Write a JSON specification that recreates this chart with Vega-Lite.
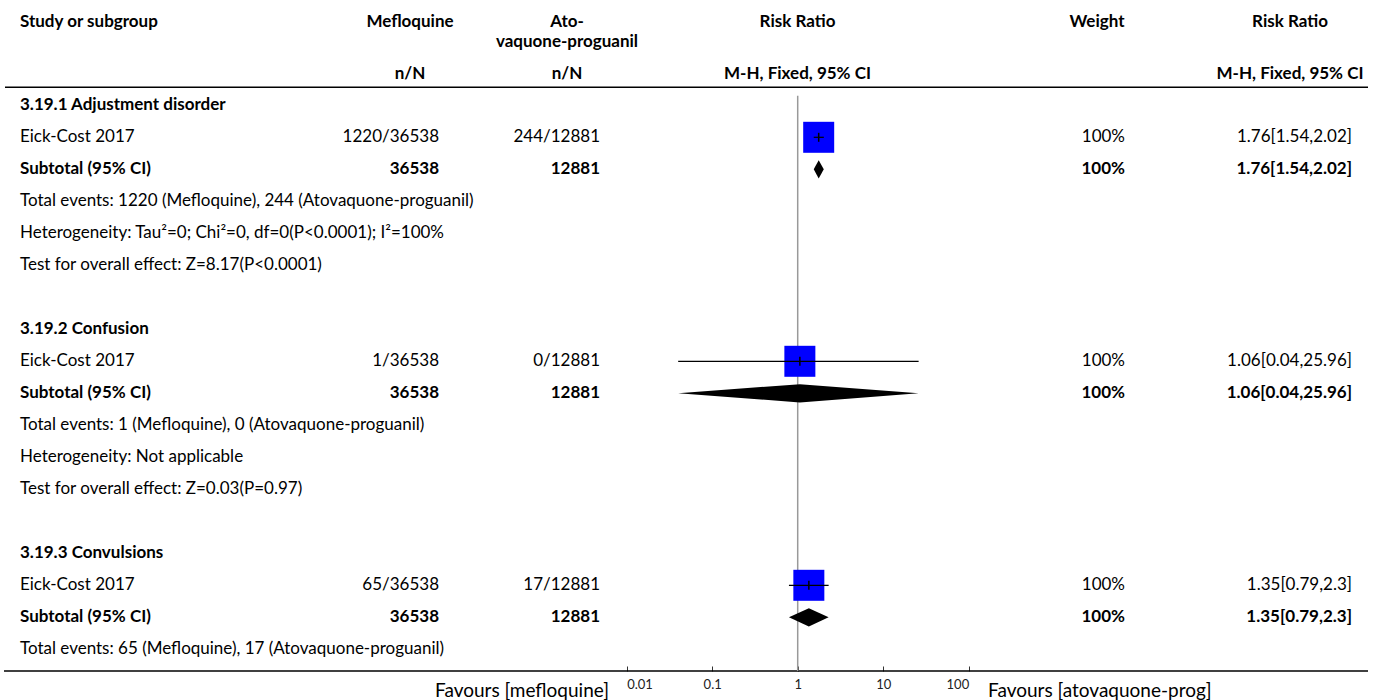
{
  "$schema": "https://vega.github.io/schema/vega-lite/v6.json",
  "width": 1375,
  "height": 700,
  "autosize": "none",
  "padding": 0,
  "background": "#ffffff",
  "config": {
    "view": {"stroke": null},
    "text": {"font": "Lato", "fontSize": 17, "color": "#000000", "baseline": "middle"}
  },
  "datasets": {
    "rows": [
      {"row": 0, "kind": "group", "label": "3.19.1 Adjustment disorder"},
      {"row": 1, "kind": "study", "label": "Eick-Cost 2017", "events_mef": 1220, "total_mef": 36538, "events_ato": 244, "total_ato": 12881, "rr": 1.76, "lo": 1.54, "hi": 2.02, "weight": 100},
      {"row": 2, "kind": "subtotal", "label": "Subtotal (95% CI)", "total_mef": 36538, "total_ato": 12881, "rr": 1.76, "lo": 1.54, "hi": 2.02, "weight": 100},
      {"row": 3, "kind": "note", "label": "Total events: 1220 (Mefloquine), 244 (Atovaquone-proguanil)"},
      {"row": 4, "kind": "note", "label": "Heterogeneity: Tau²=0; Chi²=0, df=0(P<0.0001); I²=100%"},
      {"row": 5, "kind": "note", "label": "Test for overall effect: Z=8.17(P<0.0001)"},
      {"row": 7, "kind": "group", "label": "3.19.2 Confusion"},
      {"row": 8, "kind": "study", "label": "Eick-Cost 2017", "events_mef": 1, "total_mef": 36538, "events_ato": 0, "total_ato": 12881, "rr": 1.06, "lo": 0.04, "hi": 25.96, "weight": 100},
      {"row": 9, "kind": "subtotal", "label": "Subtotal (95% CI)", "total_mef": 36538, "total_ato": 12881, "rr": 1.06, "lo": 0.04, "hi": 25.96, "weight": 100},
      {"row": 10, "kind": "note", "label": "Total events: 1 (Mefloquine), 0 (Atovaquone-proguanil)"},
      {"row": 11, "kind": "note", "label": "Heterogeneity: Not applicable"},
      {"row": 12, "kind": "note", "label": "Test for overall effect: Z=0.03(P=0.97)"},
      {"row": 14, "kind": "group", "label": "3.19.3 Convulsions"},
      {"row": 15, "kind": "study", "label": "Eick-Cost 2017", "events_mef": 65, "total_mef": 36538, "events_ato": 17, "total_ato": 12881, "rr": 1.35, "lo": 0.79, "hi": 2.3, "weight": 100},
      {"row": 16, "kind": "subtotal", "label": "Subtotal (95% CI)", "total_mef": 36538, "total_ato": 12881, "rr": 1.35, "lo": 0.79, "hi": 2.3, "weight": 100},
      {"row": 17, "kind": "note", "label": "Total events: 65 (Mefloquine), 17 (Atovaquone-proguanil)"}
    ],
    "headers": [
      {"col": "study", "tier": "top", "text": "Study or subgroup"},
      {"col": "mef", "tier": "top", "text": "Mefloquine"},
      {"col": "ato", "tier": "top", "text": "Ato-\nvaquone-proguanil"},
      {"col": "plot", "tier": "top", "text": "Risk Ratio"},
      {"col": "weight", "tier": "top", "text": "Weight"},
      {"col": "ci", "tier": "top", "text": "Risk Ratio"},
      {"col": "mef", "tier": "sub", "text": "n/N"},
      {"col": "ato", "tier": "sub", "text": "n/N"},
      {"col": "plot", "tier": "sub", "text": "M-H, Fixed, 95% CI"},
      {"col": "ci", "tier": "sub", "text": "M-H, Fixed, 95% CI"}
    ],
    "favours": [
      {"side": "left", "text": "Favours [mefloquine]"},
      {"side": "right", "text": "Favours [atovaquone-prog]"}
    ]
  },
  "data": {"name": "rows"},
  "layer": [
    {
      "layer": [
        {
          "data": {"values": [{"line": "header"}]},
          "mark": {"type": "rule", "color": "#000000", "strokeWidth": 1.5},
          "encoding": {
            "x": {"datum": 5, "type": "quantitative", "scale": {"domain": [0, 1375], "nice": false, "zero": false}, "axis": null},
            "x2": {"datum": 1368},
            "y": {"datum": -0.5625, "type": "quantitative", "scale": {"domain": [-3.2906, 18.5844], "reverse": true, "nice": false, "zero": false}, "axis": null}
          }
        },
        {
          "data": {"values": [{"line": "axis"}]},
          "mark": {"type": "rule", "color": "#000000", "strokeWidth": 1.5},
          "encoding": {
            "x": {"datum": 4, "type": "quantitative"},
            "x2": {"datum": 1368},
            "y": {"datum": 17.678, "type": "quantitative"}
          }
        },
        {
          "data": {"name": "headers"},
          "transform": [{"filter": "datum.col === 'study'"}],
          "mark": {"type": "text", "align": "left", "fontWeight": "bold"},
          "encoding": {
            "x": {"datum": 20, "type": "quantitative"},
            "y": {"datum": -2.6125, "type": "quantitative"},
            "text": {"field": "text"}
          }
        },
        {
          "data": {"name": "headers"},
          "transform": [{"filter": "datum.col === 'mef' && datum.tier === 'top'"}],
          "mark": {"type": "text", "align": "center", "fontWeight": "bold"},
          "encoding": {
            "x": {"datum": 410, "type": "quantitative"},
            "y": {"datum": -2.6125, "type": "quantitative"},
            "text": {"field": "text"}
          }
        },
        {
          "data": {"name": "headers"},
          "transform": [{"filter": "datum.col === 'ato' && datum.tier === 'top'"}],
          "mark": {"type": "text", "align": "center", "fontWeight": "bold", "lineBreak": "\n", "lineHeight": 20},
          "encoding": {
            "x": {"datum": 567, "type": "quantitative"},
            "y": {"datum": -2.6125, "type": "quantitative"},
            "text": {"field": "text"}
          }
        },
        {
          "data": {"name": "headers"},
          "transform": [{"filter": "datum.col === 'plot' && datum.tier === 'top'"}],
          "mark": {"type": "text", "align": "center", "fontWeight": "bold"},
          "encoding": {
            "x": {"datum": 797.5, "type": "quantitative"},
            "y": {"datum": -2.6125, "type": "quantitative"},
            "text": {"field": "text"}
          }
        },
        {
          "data": {"name": "headers"},
          "transform": [{"filter": "datum.col === 'weight'"}],
          "mark": {"type": "text", "align": "center", "fontWeight": "bold"},
          "encoding": {
            "x": {"datum": 1097, "type": "quantitative"},
            "y": {"datum": -2.6125, "type": "quantitative"},
            "text": {"field": "text"}
          }
        },
        {
          "data": {"name": "headers"},
          "transform": [{"filter": "datum.col === 'ci' && datum.tier === 'top'"}],
          "mark": {"type": "text", "align": "center", "fontWeight": "bold"},
          "encoding": {
            "x": {"datum": 1290, "type": "quantitative"},
            "y": {"datum": -2.6125, "type": "quantitative"},
            "text": {"field": "text"}
          }
        },
        {
          "data": {"name": "headers"},
          "transform": [{"filter": "datum.col === 'mef' && datum.tier === 'sub'"}],
          "mark": {"type": "text", "align": "center", "fontWeight": "bold"},
          "encoding": {
            "x": {"datum": 410, "type": "quantitative"},
            "y": {"datum": -0.97, "type": "quantitative"},
            "text": {"field": "text"}
          }
        },
        {
          "data": {"name": "headers"},
          "transform": [{"filter": "datum.col === 'ato' && datum.tier === 'sub'"}],
          "mark": {"type": "text", "align": "center", "fontWeight": "bold"},
          "encoding": {
            "x": {"datum": 567, "type": "quantitative"},
            "y": {"datum": -0.97, "type": "quantitative"},
            "text": {"field": "text"}
          }
        },
        {
          "data": {"name": "headers"},
          "transform": [{"filter": "datum.col === 'plot' && datum.tier === 'sub'"}],
          "mark": {"type": "text", "align": "center", "fontWeight": "bold"},
          "encoding": {
            "x": {"datum": 797.5, "type": "quantitative"},
            "y": {"datum": -0.97, "type": "quantitative"},
            "text": {"field": "text"}
          }
        },
        {
          "data": {"name": "headers"},
          "transform": [{"filter": "datum.col === 'ci' && datum.tier === 'sub'"}],
          "mark": {"type": "text", "align": "center", "fontWeight": "bold"},
          "encoding": {
            "x": {"datum": 1290, "type": "quantitative"},
            "y": {"datum": -0.97, "type": "quantitative"},
            "text": {"field": "text"}
          }
        },
        {
          "mark": {"type": "text", "align": "left", "fontWeight": {"expr": "datum.kind === 'group' || datum.kind === 'subtotal' ? 'bold' : 'normal'"}},
          "encoding": {
            "x": {"datum": 20, "type": "quantitative"},
            "y": {"field": "row", "type": "quantitative"},
            "text": {"field": "label"}
          }
        },
        {
          "transform": [
            {"filter": "datum.kind === 'study' || datum.kind === 'subtotal'"},
            {"calculate": "datum.kind === 'study' ? datum.events_mef + '/' + datum.total_mef : '' + datum.total_mef", "as": "mef_text"}
          ],
          "mark": {"type": "text", "align": "right", "fontWeight": {"expr": "datum.kind === 'subtotal' ? 'bold' : 'normal'"}},
          "encoding": {
            "x": {"datum": 439, "type": "quantitative"},
            "y": {"field": "row", "type": "quantitative"},
            "text": {"field": "mef_text"}
          }
        },
        {
          "transform": [
            {"filter": "datum.kind === 'study' || datum.kind === 'subtotal'"},
            {"calculate": "datum.kind === 'study' ? datum.events_ato + '/' + datum.total_ato : '' + datum.total_ato", "as": "ato_text"}
          ],
          "mark": {"type": "text", "align": "right", "fontWeight": {"expr": "datum.kind === 'subtotal' ? 'bold' : 'normal'"}},
          "encoding": {
            "x": {"datum": 600, "type": "quantitative"},
            "y": {"field": "row", "type": "quantitative"},
            "text": {"field": "ato_text"}
          }
        },
        {
          "transform": [
            {"filter": "datum.kind === 'study' || datum.kind === 'subtotal'"},
            {"calculate": "datum.weight + '%'", "as": "weight_text"}
          ],
          "mark": {"type": "text", "align": "right", "fontWeight": {"expr": "datum.kind === 'subtotal' ? 'bold' : 'normal'"}},
          "encoding": {
            "x": {"datum": 1125, "type": "quantitative"},
            "y": {"field": "row", "type": "quantitative"},
            "text": {"field": "weight_text"}
          }
        },
        {
          "transform": [
            {"filter": "datum.kind === 'study' || datum.kind === 'subtotal'"},
            {"calculate": "datum.rr + '[' + datum.lo + ',' + datum.hi + ']'", "as": "ci_text"}
          ],
          "mark": {"type": "text", "align": "right", "fontWeight": {"expr": "datum.kind === 'subtotal' ? 'bold' : 'normal'"}},
          "encoding": {
            "x": {"datum": 1352, "type": "quantitative"},
            "y": {"field": "row", "type": "quantitative"},
            "text": {"field": "ci_text"}
          }
        },
        {
          "data": {"name": "favours"},
          "transform": [{"filter": "datum.side === 'left'"}],
          "mark": {"type": "text", "align": "right", "fontSize": 19},
          "encoding": {
            "x": {"datum": 609, "type": "quantitative"},
            "y": {"datum": 18.3, "type": "quantitative"},
            "text": {"field": "text"}
          }
        },
        {
          "data": {"name": "favours"},
          "transform": [{"filter": "datum.side === 'right'"}],
          "mark": {"type": "text", "align": "left", "fontSize": 19},
          "encoding": {
            "x": {"datum": 988, "type": "quantitative"},
            "y": {"datum": 18.3, "type": "quantitative"},
            "text": {"field": "text"}
          }
        }
      ]
    },
    {
      "layer": [
        {
          "data": {"values": [{"ratio": 1}]},
          "mark": {"type": "rule", "color": "#999999", "strokeWidth": 1.5},
          "encoding": {
            "x": {
              "field": "ratio",
              "type": "quantitative",
              "scale": {"type": "log", "domain": [0.01, 100], "range": [626.7, 968.7], "nice": false},
              "axis": {
                "orient": "bottom",
                "offset": -29,
                "values": [0.01, 0.1, 1, 10, 100],
                "domain": false,
                "grid": false,
                "ticks": true,
                "tickSize": -5,
                "tickColor": "#333333",
                "tickWidth": 1,
                "labelFlush": true,
                "labelPadding": 12,
                "labelFont": "Lato",
                "labelFontSize": 13,
                "labelColor": "#222222",
                "labelExpr": "'' + datum.value",
                "title": null
              }
            },
            "y": {"datum": -0.3, "type": "quantitative"},
            "y2": {"datum": 17.678}
          }
        },
        {
          "transform": [{"filter": "datum.kind === 'study'"}],
          "mark": {"type": "point", "shape": "square", "filled": true, "color": "#0000ff", "opacity": 1, "strokeWidth": 0},
          "encoding": {
            "x": {"field": "rr", "type": "quantitative"},
            "y": {"field": "row", "type": "quantitative"},
            "size": {"field": "weight", "type": "quantitative", "scale": {"domain": [0, 100], "range": [0, 961]}, "legend": null}
          }
        },
        {
          "transform": [{"filter": "datum.kind === 'study'"}],
          "mark": {"type": "rule", "color": "#000000", "strokeWidth": 1.2},
          "encoding": {
            "x": {"field": "lo", "type": "quantitative"},
            "x2": {"field": "hi"},
            "y": {"field": "row", "type": "quantitative"}
          }
        },
        {
          "transform": [{"filter": "datum.kind === 'study'"}],
          "mark": {"type": "tick", "orient": "vertical", "size": 9, "thickness": 1.5, "color": "#000000", "opacity": 1},
          "encoding": {
            "x": {"field": "rr", "type": "quantitative"},
            "y": {"field": "row", "type": "quantitative"}
          }
        },
        {
          "transform": [
            {"filter": "datum.kind === 'subtotal'"},
            {"fold": ["lo", "rr", "hi"], "as": ["point", "ratio"]},
            {"calculate": "datum.point === 'rr' ? 0.285 : 0", "as": "half"},
            {"calculate": "datum.row - datum.half", "as": "top"},
            {"calculate": "datum.row + datum.half", "as": "bottom"}
          ],
          "mark": {"type": "area", "orient": "vertical", "color": "#000000", "opacity": 1},
          "encoding": {
            "x": {"field": "ratio", "type": "quantitative"},
            "y": {"field": "top", "type": "quantitative"},
            "y2": {"field": "bottom"},
            "detail": {"field": "row", "type": "nominal"}
          }
        }
      ]
    }
  ],
  "resolve": {"scale": {"x": "independent"}}
}
